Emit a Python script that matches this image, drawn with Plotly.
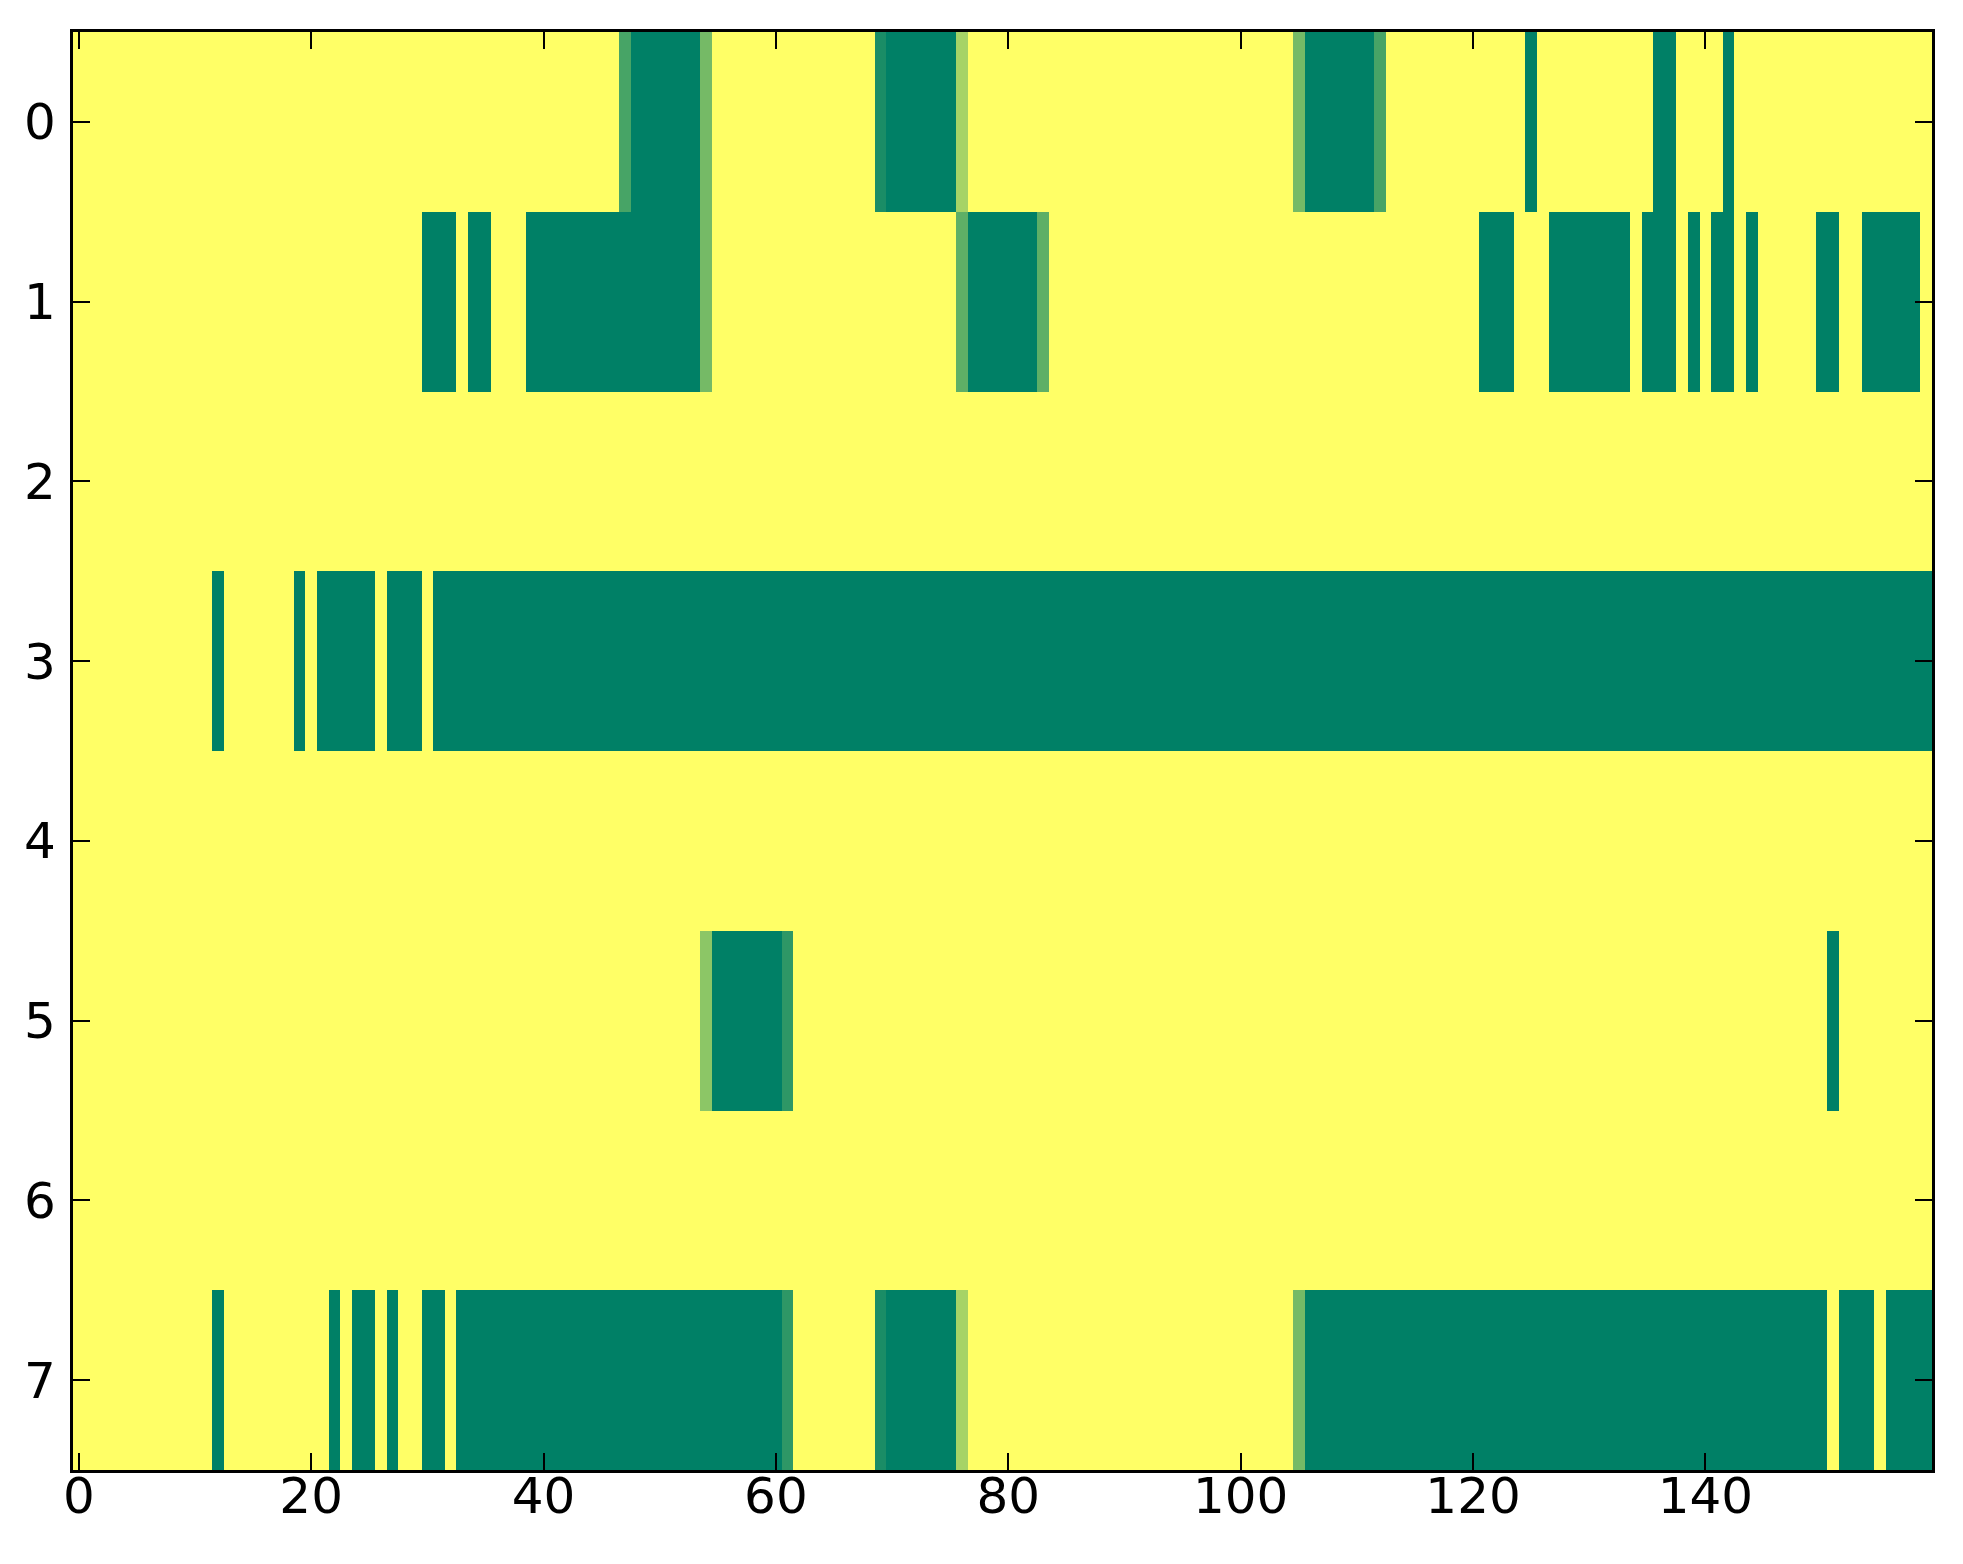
import plotly.graph_objects as go

# heatmap of 8 rows x 160 columns, summer colormap (0 = green, 1 = yellow)
n_cols = 160
rows = [0, 1, 2, 3, 4, 5, 6, 7]
cols = list(range(n_cols))

# dark green runs per row (inclusive column ranges), value 0
row0_dark = [(48, 53), (70, 75), (106, 111), (125, 125), (136, 137), (142, 142)]
row1_dark = [(30, 32), (34, 35), (39, 53), (77, 82), (121, 123), (127, 133),
             (135, 137), (139, 139), (141, 142), (144, 144), (150, 151), (154, 158)]
row2_dark = []
row3_dark = [(12, 12), (19, 19), (21, 25), (27, 29), (31, 159)]
row4_dark = []
row5_dark = [(55, 60), (151, 151)]
row6_dark = []
row7_dark = [(12, 12), (22, 22), (24, 25), (27, 27), (30, 31), (33, 60),
             (70, 75), (106, 150), (152, 154), (156, 159)]

# in-between cells (column: value)
row0_mid = {47: 0.28, 54: 0.46, 69: 0.1, 76: 0.65, 105: 0.46, 112: 0.28}
row1_mid = {54: 0.46, 76: 0.37, 83: 0.37}
row5_mid = {54: 0.55, 61: 0.18}
row7_mid = {61: 0.18, 69: 0.1, 76: 0.65, 105: 0.46}

dark_runs = [row0_dark, row1_dark, row2_dark, row3_dark,
             row4_dark, row5_dark, row6_dark, row7_dark]
mid_cells = [row0_mid, row1_mid, {}, {}, {}, row5_mid, {}, row7_mid]

z = []
for runs, mids in zip(dark_runs, mid_cells):
    line = [1.0] * n_cols
    for a, b in runs:
        for c in range(a, b + 1):
            line[c] = 0.0
    for c, v in mids.items():
        line[c] = v
    z.append(line)

summer = [[0.0, "rgb(0,128,102)"], [1.0, "rgb(255,255,102)"]]

fig = go.Figure(go.Heatmap(
    z=z, x=cols, y=rows,
    colorscale=summer, zmin=0, zmax=1,
    showscale=False, hoverinfo="skip"
))

axis_style = dict(
    showgrid=False, zeroline=False,
    showline=True, linecolor="black", linewidth=3.3, mirror="ticks",
    ticks="inside", ticklen=17, tickwidth=2, tickcolor="black",
    tickfont=dict(family="DejaVu Sans", size=50, color="black"),
)

fig.update_xaxes(range=[-0.5, 159.5], tickvals=[0, 20, 40, 60, 80, 100, 120, 140],
                 ticklabelstandoff=-20, **axis_style)
fig.update_yaxes(range=[7.5, -0.5], tickvals=rows, ticklabelstandoff=4, **axis_style)

# page body has an 8px margin, so the figure is a bit smaller than the window
fig.update_layout(
    width=1947, height=1548,
    margin=dict(l=65, r=23, t=24, b=86),
    paper_bgcolor="white", plot_bgcolor="white",
)

fig.write_html("out.html")
